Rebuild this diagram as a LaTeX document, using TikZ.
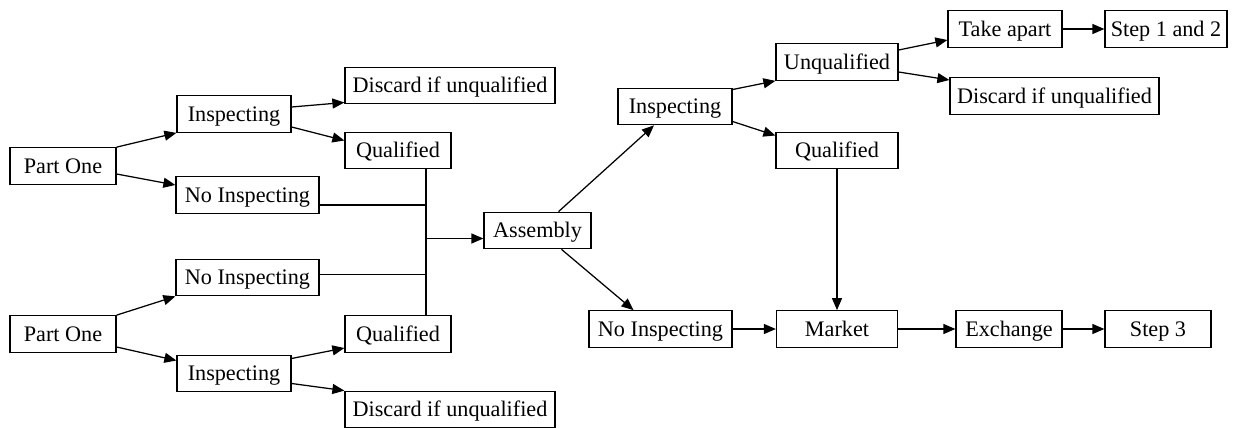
\documentclass[tikz,border=0pt]{standalone}
\usepackage{fontspec}
\setmainfont{Liberation Serif}
\usetikzlibrary{arrows.meta}
\begin{document}
\begin{tikzpicture}[x=1pt,y=-1pt,
  box/.style={draw,line width=1.25pt,minimum height=36.5pt,inner sep=0pt,text height=14.7pt,text depth=0pt,font=\fontsize{22.2}{25}\selectfont},
  arr/.style={line width=1.25pt,-{Triangle[length=12pt,width=10pt]}},
  ln/.style={line width=1.25pt}]
\useasboundingbox (0,0) rectangle (1236,428);
% left upper
\node[box,minimum width=106pt] (po1) at (63,166) {Part One};
\node[box,minimum width=114pt] (ins1) at (234,114) {Inspecting};
\node[box,minimum width=143pt] (ni1) at (247.5,195) {No Inspecting};
\node[box,minimum width=210pt] (d1) at (450,85.5) {Discard if unqualified};
\node[box,minimum width=106pt] (q1) at (398,150.5) {Qualified};
% left lower
\node[box,minimum width=143pt] (ni2) at (247.5,277.5) {No Inspecting};
\node[box,minimum width=106pt] (po2) at (63,334) {Part One};
\node[box,minimum width=106pt] (q2) at (398,334) {Qualified};
\node[box,minimum width=114pt] (ins2) at (234,373.5) {Inspecting};
\node[box,minimum width=210pt] (d2) at (450,409.5) {Discard if unqualified};
% middle / right
\node[box,minimum width=107pt] (asm) at (537.5,230.5) {Assembly};
\node[box,minimum width=114pt] (ins3) at (675,106.5) {Inspecting};
\node[box,minimum width=122pt] (uq) at (837,62) {Unqualified};
\node[box,minimum width=122pt] (q3) at (837,150.5) {Qualified};
\node[box,minimum width=114pt] (ta) at (1005,29) {Take apart};
\node[box,minimum width=122pt] (s12) at (1166,29) {Step 1 and 2};
\node[box,minimum width=209pt] (d3) at (1054.5,96) {Discard if unqualified};
\node[box,minimum width=143pt] (ni3) at (660.5,329) {No Inspecting};
\node[box,minimum width=121pt] (mkt) at (837,329) {Market};
\node[box,minimum width=106pt] (ex) at (1009,329) {Exchange};
\node[box,minimum width=106pt] (s3) at (1158,329) {Step 3};
% upper left edges
\draw[arr] (po1.north east) -- (ins1.south west);
\draw[arr] ([yshift=-8pt]po1.east) -- ([yshift=10pt]ni1.west);
\draw[arr] ([yshift=7pt]ins1.east) -- ([yshift=-17pt]d1.west);
\draw[arr] ([yshift=-13pt]ins1.east) -- ([yshift=10pt]q1.west);
% lower left edges
\draw[arr] (po2.north east) -- (ni2.south west);
\draw[arr] ([yshift=-13pt]po2.east) -- ([yshift=13pt]ins2.west);
\draw[arr] ([yshift=15pt]ins2.east) -- ([yshift=-14pt]q2.west);
\draw[arr] ([yshift=-10pt]ins2.east) -- (d2.north west);
% junction
\coordinate (jt) at ([xshift=28pt]q1.south);
\coordinate (jb) at ([xshift=28pt]q2.north);
\draw[ln] (jt) -- (jb);
\draw[ln] ([yshift=-10pt]ni1.east) coordinate (a1) -- (a1 -| jt);
\draw[ln] ([yshift=3pt]ni2.east) coordinate (a2) -- (a2 -| jt);
\draw[arr] ([yshift=-8pt]asm.west -| jt) -- ([yshift=-8pt]asm.west);
% right part
\draw[arr] ([xshift=21pt]asm.north) -- ([xshift=-21pt]ins3.south);
\draw[arr] ([xshift=24pt]asm.south) -- ([xshift=-27pt]ni3.north);
\draw[arr] ([yshift=17pt]ins3.east) -- (uq.south west);
\draw[arr] ([yshift=-15pt]ins3.east) -- ([yshift=15pt]q3.west);
\draw[arr] ([yshift=12pt]uq.east) -- ([yshift=-11pt]ta.west);
\draw[arr] ([yshift=-10pt]uq.east) -- ([yshift=16pt]d3.west);
\draw[arr] (ta.east) -- (s12.west);
\draw[arr] (q3.south) -- (mkt.north);
\draw[arr] (ni3.east) -- (mkt.west);
\draw[arr] (mkt.east) -- (ex.west);
\draw[arr] (ex.east) -- (s3.west);
\end{tikzpicture}
\end{document}
